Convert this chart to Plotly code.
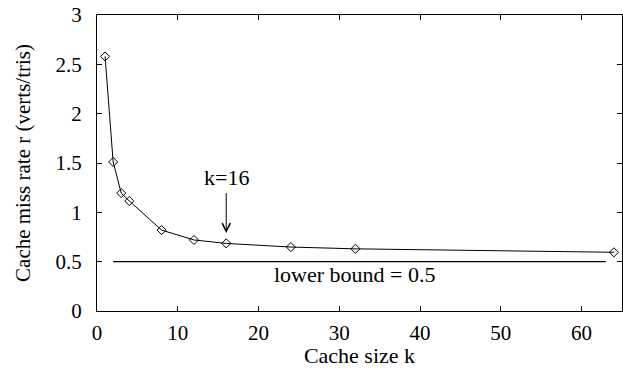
import plotly.graph_objects as go

cache_size = [1, 2, 3, 4, 8, 12, 16, 24, 32, 64]
miss_rate = [2.58, 1.51, 1.195, 1.115, 0.82, 0.72, 0.685, 0.648, 0.63, 0.595]
bound_x = [2, 63]
bound_y = [0.5, 0.5]
x_ticks = [0, 10, 20, 30, 40, 50, 60]
y_ticks = [0, 0.5, 1, 1.5, 2, 2.5, 3]
y_tick_text = ["0", "0.5", "1", "1.5", "2", "2.5", "3"]

font_family = "Liberation Serif, Times New Roman, serif"

fig = go.Figure()
fig.add_trace(go.Scatter(
    x=cache_size, y=miss_rate, mode="lines+markers", cliponaxis=False,
    line=dict(color="black", width=1),
    marker=dict(symbol="diamond-open", size=7, color="black", line=dict(width=1)),
    showlegend=False,
))
fig.add_trace(go.Scatter(
    x=bound_x, y=bound_y, mode="lines",
    line=dict(color="black", width=1.2), showlegend=False,
))

fig.add_annotation(x=16, y=0.79, ax=16, ay=1.21, xref="x", yref="y", axref="x", ayref="y",
                   showarrow=True, arrowhead=5, arrowsize=1.6, arrowwidth=1, arrowcolor="black",
                   text="")
fig.add_annotation(x=16, y=1.35, xref="x", yref="y", text="k=16", showarrow=False,
                   font=dict(family=font_family, size=22, color="black"))
fig.add_annotation(x=31.9, y=0.375, xref="x", yref="y", text="lower bound = 0.5", showarrow=False,
                   font=dict(family=font_family, size=22, color="black"))

axis_common = dict(
    showgrid=False, zeroline=False, showline=True, linecolor="black", linewidth=1,
    mirror="ticks", ticks="inside", ticklen=5, tickcolor="black", tickwidth=1,
    tickfont=dict(family=font_family, size=21, color="black"),
)

fig.update_xaxes(range=[0, 65], tickvals=x_ticks, ticklabelstandoff=3,
                 title=dict(text="Cache size k", font=dict(family=font_family, size=22, color="black"), standoff=0),
                 **axis_common)
fig.update_yaxes(range=[0, 3], tickvals=y_ticks, ticktext=y_tick_text, ticklabelstandoff=10,
                 title=dict(text="Cache miss rate r (verts/tris)", font=dict(family=font_family, size=21, color="black"), standoff=19),
                 **axis_common)

fig.update_layout(
    width=623, height=368,
    margin=dict(l=97, r=1, t=15, b=57, autoexpand=False),
    plot_bgcolor="white", paper_bgcolor="white",
    font=dict(family=font_family, color="black"),
)

fig.write_html("out.html", config={"displayModeBar": False},
               post_script="document.body.style.margin='0';document.body.style.overflow='hidden';")
